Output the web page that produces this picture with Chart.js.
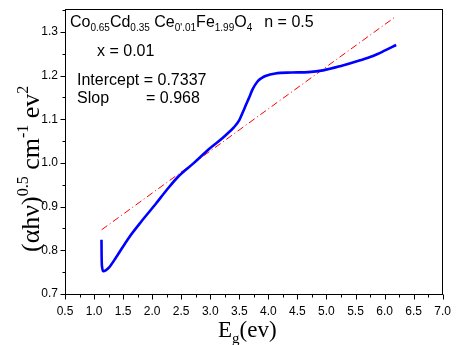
<!DOCTYPE html>
<html><head><meta charset="utf-8">
<script src="https://cdn.jsdelivr.net/npm/chart.js@4/dist/chart.umd.min.js"></script>
<style>html,body{margin:0;padding:0;background:#fff}canvas{display:block}</style>
</head><body>
<canvas id="c" width="456" height="345"></canvas>
<script>
// ---- data ----
const curveX = [1.128,1.130,1.138,1.16,1.20,1.26,1.38,1.60,1.82,2.06,2.25,2.45,2.71,2.99,3.15,3.27,3.41,3.50,3.56,3.62,3.67,3.73,3.81,3.88,3.95,4.12,4.40,4.69,4.94,5.25,5.58,5.80,6.00,6.20];
const curveY = [0.824,0.790,0.762,0.752,0.754,0.761,0.784,0.829,0.867,0.906,0.938,0.969,0.999,1.033,1.050,1.064,1.082,1.098,1.116,1.135,1.150,1.169,1.186,1.194,1.199,1.205,1.207,1.208,1.212,1.222,1.235,1.245,1.257,1.270];
const fitX = [1.13, 6.20];
const fitY = [0.847, 1.336];
const xTickValues = [0.5,1.0,1.5,2.0,2.5,3.0,3.5,4.0,4.5,5.0,5.5,6.0,6.5,7.0];
const yTickValues = [0.7,0.8,0.9,1.0,1.1,1.2,1.3];
const interceptText = "0.7337";
const slopeText = "0.968";

const SANS = '"Liberation Sans", Arial, sans-serif';
const SERIF = '"Liberation Serif", "Times New Roman", serif';

function rich(ctx, x, y, parts, family) {
  for (const [t, size, dy] of parts) {
    ctx.font = size + 'px ' + family;
    ctx.fillText(t, x, y + dy);
    x += ctx.measureText(t).width;
  }
  return x;
}

const decor = {
  id: 'decor',
  afterDraw(chart) {
    const ctx = chart.ctx, xs = chart.scales.x, ys = chart.scales.y, ca = chart.chartArea;
    ctx.save();
    ctx.strokeStyle = '#000';
    ctx.lineWidth = 1;
    ctx.strokeRect(Math.round(ca.left) + 0.5, Math.round(ca.top) + 0.5,
                   Math.round(ca.right - ca.left) - 1, Math.round(ca.bottom - ca.top));
    ctx.beginPath();
    const b = Math.round(ca.bottom) + 0.5, l = Math.round(ca.left) + 0.5;
    for (let i = 0; i < xTickValues.length; i++) {
      const v = xTickValues[i];
      const p = Math.round(xs.getPixelForValue(v)) + 0.5;
      ctx.moveTo(p, b); ctx.lineTo(p, b + 5);
      if (i < xTickValues.length - 1) {
        const m = Math.round(xs.getPixelForValue((v + xTickValues[i + 1]) / 2)) + 0.5;
        ctx.moveTo(m, b); ctx.lineTo(m, b + 3);
      }
    }
    for (let i = 0; i < yTickValues.length; i++) {
      const v = yTickValues[i];
      const p = Math.round(ys.getPixelForValue(v)) + 0.5;
      ctx.moveTo(l, p); ctx.lineTo(l - 5, p);
      const m = Math.round(ys.getPixelForValue(v + 0.05)) + 0.5;
      if (m > ca.top) { ctx.moveTo(l, m); ctx.lineTo(l - 3, m); }
    }
    ctx.stroke();

    ctx.fillStyle = '#000';
    ctx.textBaseline = 'alphabetic';
    ctx.textAlign = 'left';
    // x axis title
    rich(ctx, 218, 337, [['E', 23, 0], ['g', 15, 6], ['(ev)', 23, 0]], SERIF);
    // y axis title (rotated)
    ctx.save();
    ctx.translate(39, 252);
    ctx.rotate(-Math.PI / 2);
    rich(ctx, 0, 0, [['(\u03B1h\u03BD)', 26, 0], ['0.5', 16, -11], [' cm', 26, 0], ['-1', 16, -11], [' ev', 26, 0], ['2', 16, -11]], SERIF);
    ctx.restore();
    // annotation
    let x = rich(ctx, 70, 27, [['Co', 16, 0], ['0.65', 10, 4], ['Cd', 16, 0], ['0.35', 10, 4], [' Ce', 16, 0], ["0'.01", 10, 4], ['Fe', 16, 0], ['1.99', 10, 4], ['O', 16, 0], ['4', 10, 4]], SANS);
    rich(ctx, x + 12, 27, [['n = 0.5', 16, 0]], SANS);
    rich(ctx, 97, 56, [['x = 0.01', 16, 0]], SANS);
    rich(ctx, 77, 85, [['Intercept = ' + interceptText, 16, 0]], SANS);
    rich(ctx, 77, 103, [['Slop', 16, 0]], SANS);
    rich(ctx, 146, 103, [['= ' + slopeText, 16, 0]], SANS);
    ctx.restore();
  }
};

const bg = { id: 'bg', beforeDraw(c) { c.ctx.save(); c.ctx.fillStyle = '#fff'; c.ctx.fillRect(0, 0, c.width, c.height); c.ctx.restore(); } };

new Chart(document.getElementById('c'), {
  type: 'line',
  data: {
    datasets: [
      { data: curveX.map((x, i) => ({ x, y: curveY[i] })), borderColor: '#0000ff', borderWidth: 2.6, pointRadius: 0, cubicInterpolationMode: 'monotone', fill: false },
      { data: fitX.map((x, i) => ({ x, y: fitY[i] })), borderColor: '#ff0000', borderWidth: 1, borderDash: [7, 3, 1, 3], pointRadius: 0, fill: false }
    ]
  },
  options: {
    responsive: false, animation: false, devicePixelRatio: 1,
    layout: { padding: { top: 6, right: 8, left: 0, bottom: 0 } },
    plugins: { legend: { display: false }, tooltip: { enabled: false } },
    scales: {
      x: {
        type: 'linear', min: 0.5, max: 7.0,
        afterBuildTicks: s => { s.ticks = xTickValues.map(v => ({ value: v })); },
        afterFit: s => { s.height = 51; },
        grid: { display: true, drawOnChartArea: false, color: 'rgba(0,0,0,0)', tickLength: 5 },
        border: { display: false },
        ticks: { callback: v => Number(v).toFixed(1), color: '#000', font: { family: SANS, size: 12 }, padding: 5, maxRotation: 0, autoSkip: false }
      },
      y: {
        type: 'linear', min: 0.7, max: 1.352,
        afterBuildTicks: s => { s.ticks = yTickValues.map(v => ({ value: v })); },
        afterFit: s => { s.width = 65; },
        grid: { display: true, drawOnChartArea: false, color: 'rgba(0,0,0,0)', tickLength: 5 },
        border: { display: false },
        ticks: { callback: v => Number(v).toFixed(1), color: '#000', font: { family: SANS, size: 12 }, padding: 2, autoSkip: false }
      }
    }
  },
  plugins: [bg, decor]
});
</script>
</body></html>
